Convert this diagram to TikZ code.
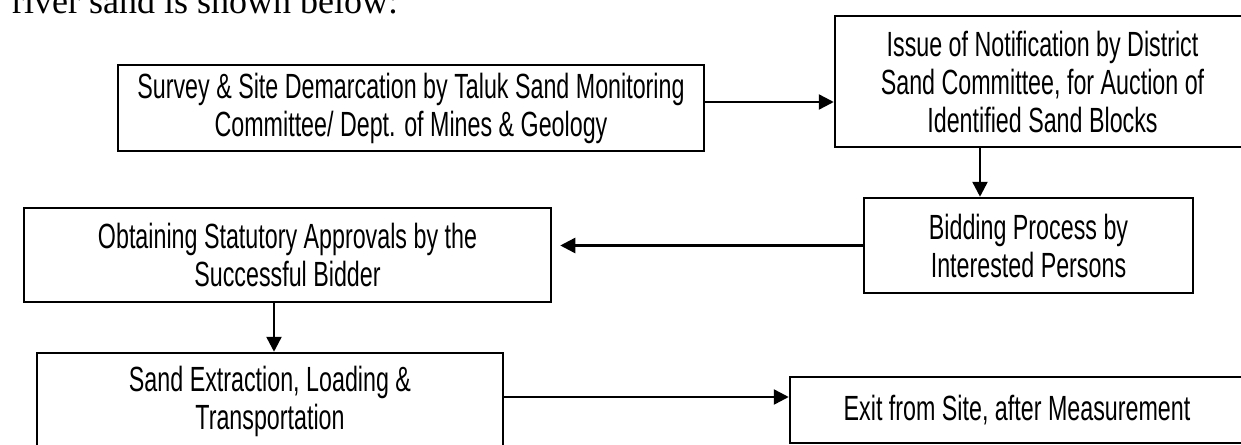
\documentclass[tikz,border=0pt]{standalone}
\usepackage{fontspec}
\setmainfont[FakeStretch=0.665]{Liberation Sans}
\newfontfamily\bodyserif{Liberation Serif}
\usetikzlibrary{arrows.meta}
\tikzset{
  box/.style={draw=black, line width=2.5pt, align=center, inner sep=0pt,
    font=\fontsize{35}{38}\selectfont},
  arr/.style={line width=2.5pt, -{Triangle[length=15pt,width=15pt]}},
}
\begin{document}
\begin{tikzpicture}[x=1pt,y=-1pt]
\useasboundingbox (0,0) rectangle (1241,444);
\node[anchor=base west, inner sep=0pt, font=\bodyserif\fontsize{36}{40}\selectfont] (intro) at (12,14) {river sand is shown below:};
\node[box, minimum width=586pt, minimum height=86pt] (A) at (411,108) {Survey \& Site Demarcation by Taluk Sand Monitoring\\Committee/ Dept. of Mines \& Geology};
\node[box, minimum width=415pt, minimum height=131pt] (B) at (1042.5,81.5) {Issue of Notification by District\\Sand Committee, for Auction of\\Identified Sand Blocks};
\node[box, minimum width=329pt, minimum height=95pt] (C) at (1028.5,245.5) {Bidding Process by\\Interested Persons};
\node[box, minimum width=527pt, minimum height=94pt] (D) at (287.5,255) {Obtaining Statutory Approvals by the\\Successful Bidder};
\node[box, minimum width=466pt, minimum height=97pt] (E) at (270,401.5) {Sand Extraction, Loading \&\\Transportation};
\node[box, minimum width=454pt, minimum height=66pt] (F) at (1017,410) {Exit from Site, after Measurement};
\draw[arr] ([yshift=6pt]A.east) -- ([yshift=6pt]A.east -| B.west);
\draw[arr] ([xshift=-62.5pt]B.south) -- ([xshift=-62.5pt]B.south |- C.north);
\draw[arr] (C.west) -- ([xshift=8pt]D.east |- C.west);
\draw[arr] ([xshift=4pt]D.south -| E.north) -- ([xshift=4pt]E.north);
\draw[arr] ([yshift=4.5pt]E.east) -- ([yshift=4.5pt]E.east -| F.west);
\end{tikzpicture}
\end{document}
